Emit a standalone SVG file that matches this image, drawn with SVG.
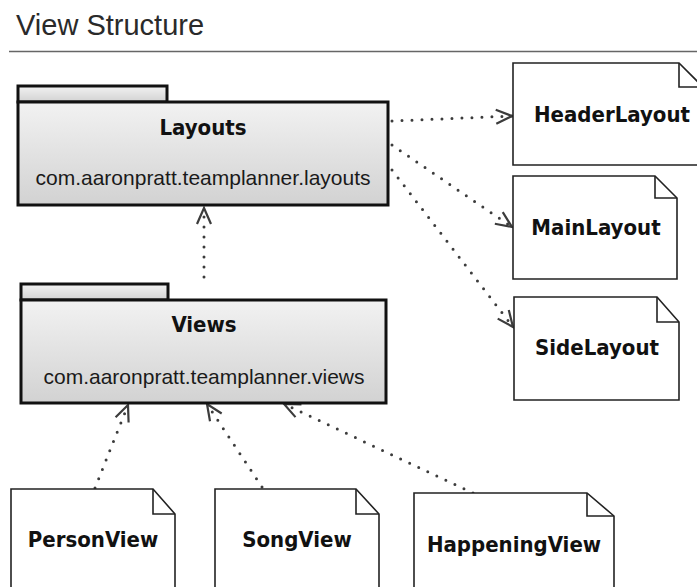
<svg xmlns="http://www.w3.org/2000/svg" width="697" height="587" viewBox="0 0 697 587">
  <defs>
    <linearGradient id="pkgFill" x1="0" y1="0" x2="0" y2="1">
      <stop offset="0" stop-color="#f2f2f2"/>
      <stop offset="1" stop-color="#d2d2d2"/>
    </linearGradient>
    <marker id="open" markerUnits="userSpaceOnUse" markerWidth="24" markerHeight="24" viewBox="-20 -10 24 20" refX="0" refY="0" orient="auto">
      <path d="M -16 -7 L 0 0 L -16 7" fill="none" stroke="#3c3c3c" stroke-width="2.2" stroke-linejoin="miter"/>
    </marker>
    <style>
      .title { font-family: "Liberation Sans", Arial, sans-serif; font-size: 29px; fill: #2a2a2a; }
      .pkg { fill: url(#pkgFill); stroke: #111; stroke-width: 3; }
      .name { font-family: "DejaVu Sans Condensed", "DejaVu Sans", Verdana, sans-serif; font-stretch: condensed; font-weight: bold; font-size: 22px; fill: #111; text-anchor: middle; }
      .ns { font-family: "Liberation Sans", Arial, sans-serif; font-size: 21px; fill: #1a1a1a; text-anchor: middle; }
      .note { fill: #fff; stroke: #222; stroke-width: 1.6; }
      .fold { fill: none; stroke: #222; stroke-width: 1.6; }
      .dep { fill: none; stroke: #3c3c3c; stroke-width: 3; stroke-dasharray: 0 10; stroke-linecap: round; marker-end: url(#open); }
    </style>
  </defs>

  <rect width="697" height="587" fill="#fff"/>

  <!-- heading -->
  <text class="title" x="16" y="35">View Structure</text>
  <line x1="9" y1="51.5" x2="697" y2="51.5" stroke="#666" stroke-width="1.5"/>

  <!-- dependencies -->
  <g id="connectors">
    <path class="dep" d="M 204 277 L 204 208"/>
    <path class="dep" d="M 392 121 L 512 116"/>
    <path class="dep" d="M 392 145 L 512 227"/>
    <path class="dep" d="M 392 170 L 513 327"/>
    <path class="dep" d="M 95 488 L 128 405"/>
    <path class="dep" d="M 262 487 L 207 404"/>
    <path class="dep" d="M 473 493 L 284 404"/>
  </g>

  <g id="layouts">
    <rect class="pkg" x="18" y="86" width="149" height="16"/>
    <rect class="pkg" x="18" y="102" width="370" height="103"/>
    <text class="name" x="203" y="135">Layouts</text>
    <text class="ns" x="203" y="185">com.aaronpratt.teamplanner.layouts</text>
  </g>

  <g id="views">
    <rect class="pkg" x="21" y="284" width="147" height="16"/>
    <rect class="pkg" x="21" y="300" width="365" height="103"/>
    <text class="name" x="204" y="332">Views</text>
    <text class="ns" x="204" y="384">com.aaronpratt.teamplanner.views</text>
  </g>

  <g id="header-layout">
    <path class="note" d="M 513 63 H 679 L 703 87 V 165 H 513 Z"/>
    <path class="fold" d="M 679 63 V 87 H 703"/>
    <text class="name" x="612" y="122">HeaderLayout</text>
  </g>

  <g id="main-layout">
    <path class="note" d="M 513 176 H 655 L 677 198 V 279 H 513 Z"/>
    <path class="fold" d="M 655 176 V 198 H 677"/>
    <text class="name" x="596" y="235">MainLayout</text>
  </g>

  <g id="side-layout">
    <path class="note" d="M 514 297 H 657 L 679 322 V 400 H 514 Z"/>
    <path class="fold" d="M 657 297 V 322 H 679"/>
    <text class="name" x="597" y="355">SideLayout</text>
  </g>

  <g id="person-view">
    <path class="note" d="M 11 489 H 153 L 175 514 V 600 H 11 Z"/>
    <path class="fold" d="M 153 489 V 514 H 175"/>
    <text class="name" x="93" y="547">PersonView</text>
  </g>

  <g id="song-view">
    <path class="note" d="M 215 489 H 356 L 379 514 V 600 H 215 Z"/>
    <path class="fold" d="M 356 489 V 514 H 379"/>
    <text class="name" x="297" y="547">SongView</text>
  </g>

  <g id="happening-view">
    <path class="note" d="M 414 493 H 587 L 614 516 V 600 H 414 Z"/>
    <path class="fold" d="M 587 493 V 516 H 614"/>
    <text class="name" x="514" y="552">HappeningView</text>
  </g>
</svg>
